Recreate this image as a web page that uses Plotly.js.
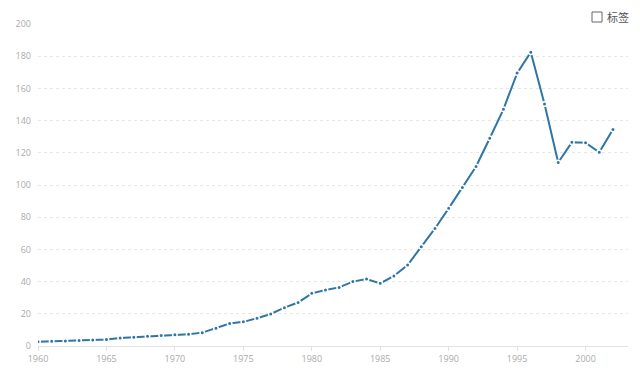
<!DOCTYPE html>
<html><head><meta charset="utf-8">
<script src="https://cdn.plot.ly/plotly-3.0.1.min.js"></script>
<style>html,body{margin:0;padding:0;background:#fff}#c{width:640px;height:381px}</style>
</head><body><div id="c"></div>
<script>
const years = [1960,1961,1962,1963,1964,1965,1966,1967,1968,1969,1970,1971,1972,1973,1974,1975,1976,1977,1978,1979,1980,1981,1982,1983,1984,1985,1986,1987,1988,1989,1990,1991,1992,1993,1994,1995,1996,1997,1998,1999,2000,2001,2002];
const values = [2.7,2.9,3.1,3.4,3.7,4.1,5.0,5.5,6.0,6.5,7.0,7.3,8.3,11.0,14.0,15.0,17.2,19.9,23.8,27.0,32.7,34.8,36.4,40.0,41.6,38.9,43.5,50.3,61.7,73.0,85.5,98.5,111.5,129.0,147.0,169.5,182.5,150.3,114.0,126.5,126.3,120.3,134.5];
const xTicks = [1960,1965,1970,1975,1980,1985,1990,1995,2000];
const yTicks = [0,20,40,60,80,100,120,140,160,180,200];
const lineColor = '#2f76a3';

Plotly.newPlot('c', [{
  x: years, y: values, type: 'scatter', mode: 'lines+markers',
  line: {color: lineColor, width: 2},
  marker: {color: lineColor, size: 4.5, line: {color: '#ffffff', width: 1.5}},
  hoverinfo: 'x+y', showlegend: false
}], {
  width: 640, height: 381,
  margin: {l: 38, r: 12, t: 24, b: 35},
  paper_bgcolor: '#fff', plot_bgcolor: '#fff',
  font: {family: '"Open Sans", "Noto Sans CJK SC", sans-serif', color: '#aaaaaa', size: 9},
  xaxis: {range: [1960, 2003.1], tickvals: xTicks, ticktext: xTicks.map(String),
    showgrid: false, zeroline: false, showline: true, linecolor: '#e3e3e3', linewidth: 1,
    ticks: 'outside', ticklen: 4, tickcolor: '#e3e3e3', tickfont: {size: 9, color: '#aaaaaa'}, fixedrange: true},
  yaxis: {range: [0, 200], tickvals: yTicks, showgrid: true, gridcolor: '#e6e6e6', griddash: '3px,3px',
    zeroline: false, showline: false, ticks: '', ticklabelstandoff: 6,
    tickfont: {size: 9, color: '#aaaaaa'}, fixedrange: true},
  shapes: [{type: 'rect', xref: 'paper', yref: 'paper', x0: 0, x1: 1, y0: 0, y1: 1, line: {width: 0}, layer: 'below'},
    {type: 'rect', xref: 'paper', yref: 'paper',
     x0: (592-38)/590, x1: (602-38)/590, y0: (346-12)/322, y1: (346-22)/322,
     line: {color: '#666666', width: 1}, fillcolor: '#ffffff'}],
  annotations: [{xref: 'paper', yref: 'paper', x: (605-38)/590, y: (346-17)/322, xanchor: 'left', yanchor: 'middle',
    text: '标签', showarrow: false, font: {size: 11, color: '#555555', family: '"Noto Sans CJK SC", sans-serif'}}]
}, {displayModeBar: false, staticPlot: true});
</script></body></html>
